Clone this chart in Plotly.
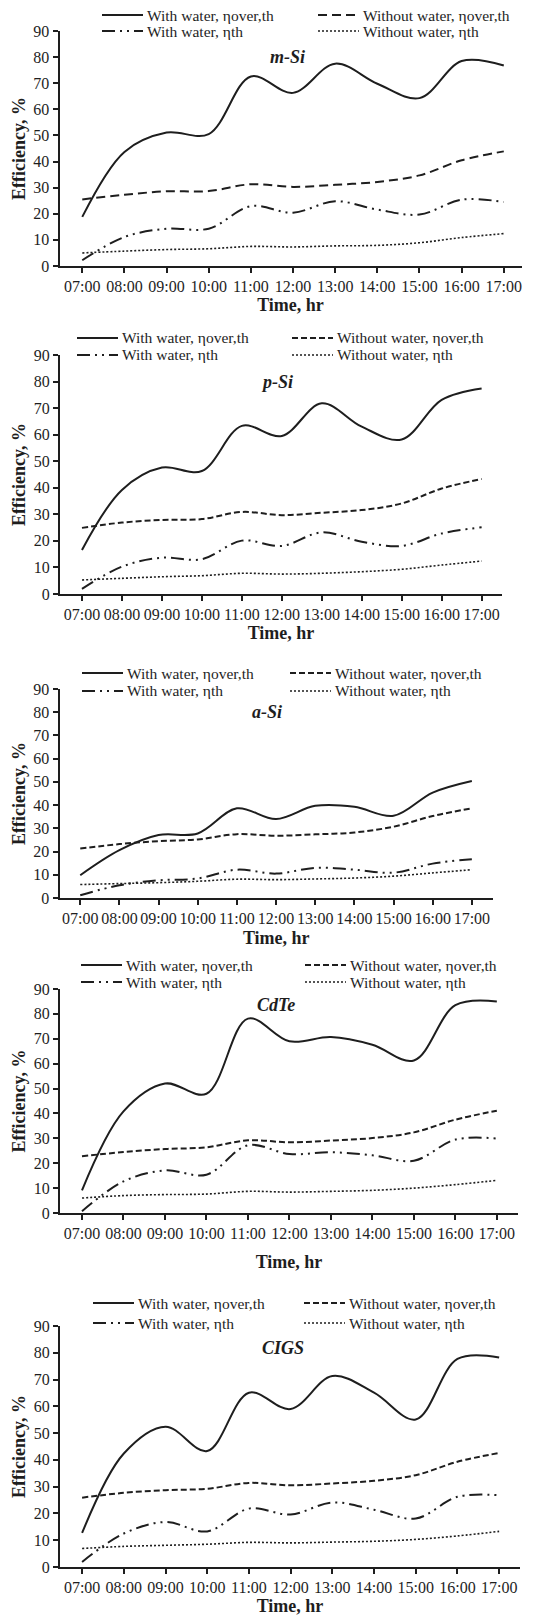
import plotly.graph_objects as go

# ---------------------------------------------------------------- data
hours = ["07:00", "08:00", "09:00", "10:00", "11:00", "12:00",
         "13:00", "14:00", "15:00", "16:00", "17:00"]

cells = ["m-Si", "p-Si", "a-Si", "CdTe", "CIGS"]

series_names = ["With water, ηover,th", "Without water, ηover,th",
                "With water, ηth", "Without water, ηth"]

# overall (thermal + electrical) and thermal efficiency, %
msi_water_over = [18.8, 43.7, 51.1, 50.5, 72.6, 66.3, 77.5, 69.8, 64.3, 78.5, 76.8]
msi_dry_over = [25.5, 27.3, 28.6, 28.7, 31.3, 30.3, 31.1, 32.2, 34.7, 40.5, 43.9]
msi_water_th = [2.2, 11.1, 14.3, 14.3, 22.9, 20.4, 24.8, 21.6, 19.7, 25.4, 24.5]
msi_dry_th = [5.0, 5.7, 6.3, 6.6, 7.5, 7.3, 7.7, 7.9, 8.9, 10.9, 12.4]

psi_water_over = [16.6, 39.2, 47.6, 46.3, 63.3, 59.5, 71.8, 63.0, 58.2, 73.1, 77.4]
psi_dry_over = [24.9, 26.9, 27.9, 28.2, 30.9, 29.7, 30.6, 31.6, 34.1, 39.7, 43.3]
psi_water_th = [1.9, 10.3, 13.7, 13.1, 20.1, 18.1, 23.2, 19.7, 18.1, 22.8, 25.1]
psi_dry_th = [5.3, 5.9, 6.5, 6.9, 7.8, 7.5, 7.8, 8.4, 9.3, 10.9, 12.4]

asi_water_over = [9.8, 20.6, 27.1, 27.8, 38.6, 34.0, 39.7, 39.3, 35.4, 45.4, 50.4]
asi_dry_over = [21.3, 23.2, 24.5, 25.2, 27.5, 26.8, 27.4, 28.2, 30.7, 35.3, 38.6]
asi_water_th = [1.2, 5.5, 7.6, 8.4, 12.2, 10.5, 13.0, 12.2, 10.9, 14.8, 16.7]
asi_dry_th = [5.8, 6.2, 6.6, 7.2, 8.1, 7.9, 8.2, 8.6, 9.4, 10.8, 12.2]

cdte_water_over = [9.1, 40.8, 52.0, 47.9, 78.1, 69.0, 70.7, 67.6, 61.3, 83.5, 85.0]
cdte_dry_over = [22.8, 24.5, 25.7, 26.4, 29.2, 28.4, 29.1, 30.1, 32.4, 37.5, 41.1]
cdte_water_th = [0.7, 12.7, 17.1, 15.4, 27.2, 23.7, 24.4, 23.2, 21.0, 29.5, 29.9]
cdte_dry_th = [6.0, 7.0, 7.4, 7.6, 8.7, 8.4, 8.7, 9.1, 10.0, 11.4, 13.1]

cigs_water_over = [12.7, 42.4, 52.4, 43.3, 65.1, 59.0, 71.3, 65.1, 55.1, 77.7, 78.2]
cigs_dry_over = [25.9, 27.7, 28.7, 29.2, 31.4, 30.5, 31.2, 32.2, 34.3, 39.3, 42.6]
cigs_water_th = [1.9, 12.5, 16.8, 13.3, 21.8, 19.6, 24.1, 21.4, 18.1, 26.2, 26.8]
cigs_dry_th = [6.9, 7.7, 8.1, 8.5, 9.2, 9.0, 9.3, 9.6, 10.3, 11.6, 13.3]

panel_series = [
    [msi_water_over, msi_dry_over, msi_water_th, msi_dry_th],
    [psi_water_over, psi_dry_over, psi_water_th, psi_dry_th],
    [asi_water_over, asi_dry_over, asi_water_th, asi_dry_th],
    [cdte_water_over, cdte_dry_over, cdte_water_th, cdte_dry_th],
    [cigs_water_over, cigs_dry_over, cigs_water_th, cigs_dry_th],
]

y_ticks = list(range(0, 91, 10))

# ---------------------------------------------------------------- layout
W, H = 548, 1620
INK = "#1e1e1e"
SERIF = "Liberation Serif, Times New Roman, serif"

# plot areas in pixels: left, right, top (y = 90), bottom (y = 0)
boxes = [
    (59.5, 521.5, 31, 266),
    (60, 502, 355, 594),
    (59.5, 493, 689, 898),
    (60, 518, 989, 1213),
    (60, 520, 1326, 1567),
]
x_ranges = [(-0.54, 10.42), (-0.55, 10.51), (-0.53, 10.54), (-0.53, 10.51), (-0.53, 10.5)]
x_title_standoff = [4, 4, 5, 14, 1]
# key block above each panel: row centres (y) and text start of each column (x), pixels
key_rows_px = [(15, 31), (338, 355), (673, 691), (965, 982), (1303, 1323)]
key_text_x = [(147, 363), (122, 337), (127, 335), (126, 350), (138, 349)]
label_pos = [(287, 57), (277, 382), (267, 712), (276, 1005), (283, 1348)]
# key entry order: (row, column)
entry_slots = [(0, 0), (0, 1), (1, 0), (1, 1)]

dash_long = ["9px,5px", "6px,3px", "6px,3px", "6px,3px", "6px,3px"]
dash_dotdot = "13px,5px,2px,5px,2px,5px"
dot = "2px,2px"

fig = go.Figure()

for i, cell in enumerate(cells):
    ax = "" if i == 0 else str(i + 1)
    styles = [
        dict(dash="solid", width=2.0),
        dict(dash=dash_long[i], width=2.0),
        dict(dash=dash_dotdot, width=2.0),
        dict(dash=dot, width=1.6),
    ]
    for s, name in enumerate(series_names):
        fig.add_trace(go.Scatter(
            x=hours, y=panel_series[i][s], name=name, mode="lines",
            line=dict(color=INK, shape="spline", smoothing=1.0, **styles[s]),
            xaxis="x" + ax, yaxis="y" + ax, showlegend=False,
            hoverinfo="skip",
        ))
        # key entry: sample stroke + series name
        row, col = entry_slots[s]
        tx = key_text_x[i][col]
        ty = 1 - key_rows_px[i][row] / H
        fig.add_shape(
            type="line", xref="paper", yref="paper",
            x0=(tx - 45) / W, x1=(tx - 4) / W, y0=ty, y1=ty,
            line=dict(color=INK, **styles[s]),
        )
        fig.add_annotation(
            text=name, x=(tx - 2) / W, y=ty, xref="paper", yref="paper",
            xanchor="left", yanchor="middle", showarrow=False,
            font=dict(family=SERIF, size=15.5, color=INK),
        )

    left, right, top, bottom = boxes[i]
    axis_common = dict(
        showline=True, linecolor=INK, linewidth=2,
        ticks="outside", tickcolor=INK, ticklen=5, tickwidth=1.5,
        showgrid=False, zeroline=False,
        tickfont=dict(family=SERIF, size=16, color=INK),
        automargin=False, fixedrange=True,
    )
    fig.layout["xaxis" + ax] = dict(
        axis_common, type="category", categoryorder="array", categoryarray=hours,
        range=list(x_ranges[i]), anchor="y" + ax,
        domain=[left / W, right / W],
        title=dict(text="<b>Time, hr</b>", standoff=x_title_standoff[i],
                   font=dict(family=SERIF, size=18, color=INK)),
    )
    fig.layout["yaxis" + ax] = dict(
        axis_common, range=[0, 90], tickvals=y_ticks, anchor="x" + ax,
        domain=[1 - bottom / H, 1 - top / H],
        title=dict(text="<b>Efficiency, %</b>", standoff=3,
                   font=dict(family=SERIF, size=18, color=INK)),
    )

    fig.add_annotation(
        text=cell, x=label_pos[i][0] / W, y=1 - label_pos[i][1] / H,
        xref="paper", yref="paper", xanchor="center", yanchor="middle",
        showarrow=False,
        font=dict(family=SERIF, size=18, color=INK, weight="bold", style="italic"),
    )

fig.update_layout(
    width=W, height=H,
    margin=dict(l=0, r=0, t=0, b=0),
    paper_bgcolor="white", plot_bgcolor="white",
    showlegend=False,
)

fig.write_html("out.html", config={"displayModeBar": False})
